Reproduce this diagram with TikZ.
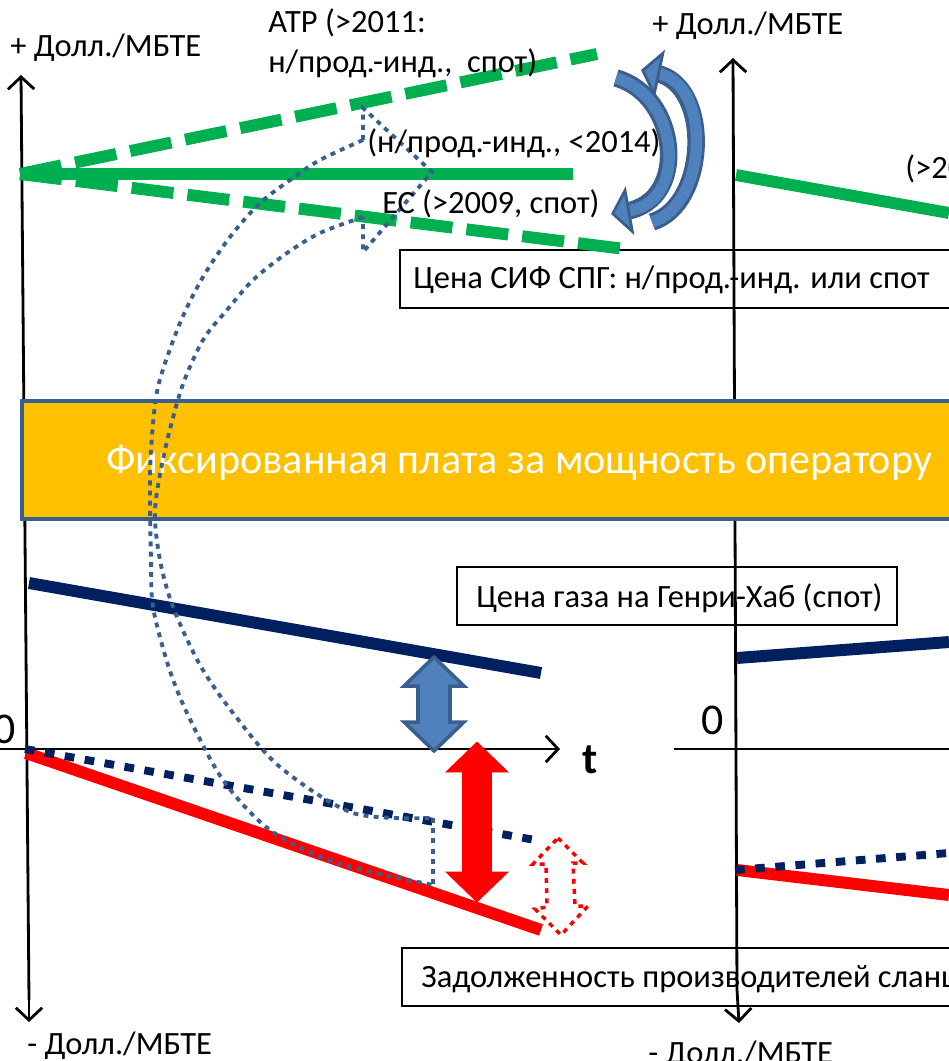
\documentclass[tikz,border=0pt]{standalone}
\usepackage{fontspec}
\setmainfont{Carlito}
\usetikzlibrary{arrows.meta}
\definecolor{gasgreen}{HTML}{00B050}
\definecolor{navyline}{HTML}{002060}
\definecolor{blueface}{HTML}{4F81BD}
\definecolor{blueedge}{HTML}{3A5F8F}
\definecolor{bandfill}{HTML}{FFC000}
\begin{document}
\begin{tikzpicture}[x=0.02cm, y=-0.02cm,
    lbl/.style={font=\fontsize{18.5}{21}\selectfont, inner sep=0pt},
    frame/.style={draw=black, line width=1.1pt, fill=white},
    axis/.style={line width=1.6pt, -{Straight Barb[length=7pt, width=15pt, line width=1.6pt]}},
    cifline/.style={gasgreen, line width=6.8pt},
    cifdash/.style={gasgreen, line width=6.8pt, dash pattern=on 24pt off 8pt},
    hubline/.style={navyline, line width=6.8pt},
    hubdot/.style={navyline, line width=4.5pt, dash pattern=on 5.5pt off 6pt},
    debtline/.style={red, line width=6.8pt},
    loopdot/.style={blueedge, line width=2.2pt, dash pattern=on 2.8pt off 3pt},
    turnedge/.style={blueedge, line width=10pt, shorten >=9pt},
    turnface/.style={blueface, line width=6.5pt, -{Triangle[length=11pt, width=28pt, fill=blueface, color=blueedge, line width=1.6pt]}}]
    \useasboundingbox (0,0) rectangle (949,1061);
    \clip (0,0) rectangle (949,1061);
    % boxes
    \draw[frame] (400,250) rectangle (1000,308);
    \node[lbl, anchor=base west] (cif) at (413,288) {Цена СИФ СПГ: н/прод.-инд. или спот};
    \draw[frame] (457,567) rectangle (897,625);
    \node[lbl, anchor=base west] (hub) at (476,607) {Цена газа на Генри-Хаб (спот)};
    \draw[frame] (402,948) rectangle (1000,1006);
    \node[lbl, anchor=base west] (debt) at (421,987) {Задолженность производителей сланц};
    % axes
    \draw[axis] (29,1000) -- (21,75);
    \draw[axis] (29,990) -- (29,1022);
    \draw[axis] (0,749) -- (560,749);
    \draw[axis] (737,990) -- (733,58);
    \draw[axis] (737,990) -- (739,1023);
    \draw[line width=1.6pt] (674,749) -- (949,749);
    \node[lbl, anchor=base west] (ytopL) at (10,57) {+ Долл./МБТЕ};
    \node[lbl, anchor=base west] (ybotL) at (27,1054) {- Долл./МБТЕ};
    \node[lbl, anchor=base west] (ytopR) at (652,35) {+ Долл./МБТЕ};
    \node[lbl, anchor=base west] (ybotR) at (648,1063) {- Долл./МБТЕ};
    \node[font=\fontsize{25}{28}\selectfont, inner sep=0pt, anchor=base east] (zeroL) at (16,743) {0};
    \node[font=\fontsize{25}{28}\selectfont, inner sep=0pt, anchor=base east] (zeroR) at (724,734) {0};
    \node[font=\fontsize{25}{28}\selectfont\bfseries, inner sep=0pt, anchor=base west] (tlab) at (582,773) {t};
    % prices
    \draw[cifline] (20,174) -- (573,174);
    \draw[cifdash] (20,174) -- (597,54);
    \draw[cifdash] (20,174) -- (625,249);
    \draw[cifline] (736,175) -- (949,213);
    \draw[hubline] (29,583) -- (541,673);
    \draw[hubline] (737,658) -- (949,642);
    \draw[debtline] (26,753) -- (541,930);
    \draw[hubdot] (25,749) -- (535,840);
    \draw[debtline] (737,870) -- (949,895);
    \draw[hubdot] (735,870) -- (949,853);
    % band
    \draw[blueedge, line width=2.4pt, fill=bandfill] (22,401) rectangle (1000,519);
    \node[font=\fontsize{24}{28}\selectfont, text=white, inner sep=0pt, anchor=base west] (fee) at (106,473) {Фиксированная плата за мощность оператору};
    % dotted loop arrow
    \draw[loopdot] plot[smooth] coordinates {(363,140) (320,160) (293,178) (260,203) (230,237) (203,277) (180,323) (158,387) (151,450) (150,500) (151,560) (153,607) (168,665) (187,713) (223,780) (270,830) (337,863) (433,885)};
    \draw[loopdot] plot[smooth] coordinates {(363,217) (320,233) (287,253) (253,280) (227,310) (203,340) (182,387) (165,450) (155,510) (160,560) (173,607) (200,665) (233,713) (280,767) (353,813) (433,818)};
    \draw[loopdot] (363,140) -- (363,108) -- (432,172) -- (363,252) -- (363,217);
    \draw[loopdot] (433,818) -- (433,885);
    % spreads
    \draw[blueedge, line width=2pt, fill=blueface] (434,657) -- (464,686) -- (450,686) -- (450,722) -- (464,722) -- (434,751) -- (404,722) -- (418,722) -- (418,686) -- (404,686) -- cycle;
    \draw[red, fill=red] (477,742) -- (508,772) -- (491.5,772) -- (491.5,872) -- (508,872) -- (477,902) -- (446,872) -- (462.5,872) -- (462.5,772) -- (446,772) -- cycle;
    \draw[red, line width=2pt, dash pattern=on 2.8pt off 3pt] (558,838) -- (583,863) -- (573,863) -- (575,906) -- (588,906) -- (561,935) -- (535,909) -- (547,907) -- (546,864) -- (533,864) -- cycle;
    % switching arrows
    \draw[turnedge] (652,222) .. controls (708,205) and (712,85) .. (641,70);
    \draw[turnface] (652,222) .. controls (708,205) and (712,85) .. (641,70);
    \draw[turnedge] (616,78) .. controls (678,95) and (690,200) .. (611,214);
    \draw[turnface] (616,78) .. controls (678,95) and (690,200) .. (611,214);
    % labels
    \node[lbl, anchor=base west] (apac) at (268,33) {АТР (>2011:};
    \node[lbl, anchor=base west] (apac2) at (268,72) {н/прод.-инд.,\ \ спот)};
    \node[lbl, anchor=base west] (oil) at (367,153) {(н/прод.-инд., <2014)};
    \node[lbl, anchor=base west] (eu) at (382,213) {ЕС (>2009, спот)};
    \node[lbl, anchor=base west] (later) at (905,178) {(>20};
\end{tikzpicture}
\end{document}
